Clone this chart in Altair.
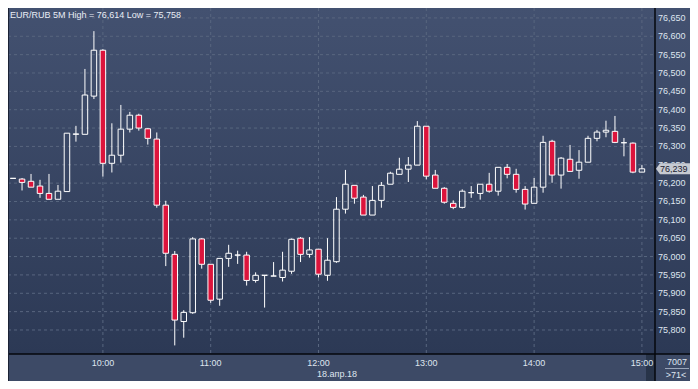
import altair as alt
import pandas as pd

symbol = "EUR/RUB"
period = "5M"
date_label = "18.апр.18"
corner_top = "7007"
corner_bottom = ">71<"

times = ["09:10", "09:15", "09:20", "09:25", "09:30", "09:35", "09:40", "09:45", "09:50", "09:55",
         "10:00", "10:05", "10:10", "10:15", "10:20", "10:25", "10:30", "10:35", "10:40", "10:45",
         "10:50", "10:55", "11:00", "11:05", "11:10", "11:15", "11:20", "11:25", "11:30", "11:35",
         "11:40", "11:45", "11:50", "11:55", "12:00", "12:05", "12:10", "12:15", "12:20", "12:25",
         "12:30", "12:35", "12:40", "12:45", "12:50", "12:55", "13:00", "13:05", "13:10", "13:15",
         "13:20", "13:25", "13:30", "13:35", "13:40", "13:45", "13:50", "13:55", "14:00", "14:05",
         "14:10", "14:15", "14:20", "14:25", "14:30", "14:35", "14:40", "14:45", "14:50", "14:55",
         "15:00"]
opens = [76.213, 76.211, 76.205, 76.192, 76.172, 76.156, 76.177, 76.333, 76.333, 76.437,
         76.562, 76.254, 76.276, 76.347, 76.385, 76.348, 76.320, 76.140, 76.006, 75.823,
         75.847, 76.048, 75.979, 75.884, 75.995, 76.004, 76.004, 75.935, 75.949, 75.947,
         75.943, 75.960, 76.050, 76.006, 76.020, 75.949, 75.986, 76.129, 76.194, 76.162,
         76.113, 76.153, 76.197, 76.224, 76.238, 76.249, 76.355, 76.222, 76.186, 76.145,
         76.134, 76.174, 76.172, 76.197, 76.178, 76.243, 76.224, 76.183, 76.145, 76.189,
         76.314, 76.222, 76.265, 76.235, 76.257, 76.322, 76.339, 76.341, 76.310, 76.309,
         76.230]
highs = [76.213, 76.214, 76.225, 76.209, 76.225, 76.195, 76.336, 76.356, 76.511, 76.614,
         76.565, 76.363, 76.413, 76.394, 76.389, 76.350, 76.338, 76.152, 76.015, 75.854,
         76.053, 76.050, 75.979, 75.995, 76.032, 76.016, 76.013, 75.957, 75.949, 75.985,
         76.013, 76.049, 76.053, 76.053, 76.020, 76.050, 76.162, 76.236, 76.194, 76.168,
         76.192, 76.203, 76.231, 76.269, 76.271, 76.369, 76.355, 76.236, 76.189, 76.153,
         76.183, 76.192, 76.197, 76.228, 76.243, 76.252, 76.239, 76.192, 76.214, 76.329,
         76.318, 76.271, 76.304, 76.290, 76.329, 76.345, 76.370, 76.383, 76.323, 76.311,
         76.249]
lows = [76.213, 76.180, 76.189, 76.160, 76.156, 76.156, 76.177, 76.313, 76.333, 76.429,
        76.218, 76.229, 76.256, 76.338, 76.343, 76.305, 76.133, 75.974, 75.758, 75.779,
        75.844, 75.967, 75.874, 75.866, 75.972, 75.980, 75.921, 75.929, 75.861, 75.947,
        75.932, 75.953, 75.985, 75.997, 75.943, 75.934, 75.983, 76.117, 76.144, 76.113,
        76.113, 76.133, 76.197, 76.224, 76.203, 76.249, 76.210, 76.186, 76.144, 76.129,
        76.131, 76.160, 76.155, 76.174, 76.166, 76.213, 76.174, 76.128, 76.145, 76.174,
        76.201, 76.185, 76.232, 76.212, 76.257, 76.314, 76.325, 76.309, 76.273, 76.227,
        76.230]
closes = [76.213, 76.202, 76.189, 76.172, 76.156, 76.178, 76.336, 76.334, 76.440, 76.562,
          76.254, 76.276, 76.347, 76.385, 76.350, 76.322, 76.140, 76.009, 75.827, 75.848,
          76.048, 75.979, 75.881, 75.995, 76.009, 76.004, 75.935, 75.949, 75.949, 75.947,
          75.963, 76.047, 76.006, 76.018, 75.952, 75.990, 76.129, 76.197, 76.159, 76.113,
          76.153, 76.194, 76.227, 76.238, 76.249, 76.355, 76.219, 76.186, 76.148, 76.134,
          76.178, 76.174, 76.197, 76.178, 76.243, 76.224, 76.183, 76.143, 76.189, 76.311,
          76.222, 76.268, 76.232, 76.257, 76.322, 76.339, 76.344, 76.311, 76.310, 76.230,
          76.239]
y_ticks = [75.80, 75.85, 75.90, 75.95, 76.00, 76.05, 76.10, 76.15, 76.20, 76.25,
           76.30, 76.35, 76.40, 76.45, 76.50, 76.55, 76.60, 76.65]
hour_ticks = ["10:00", "11:00", "12:00", "13:00", "14:00", "15:00"]


def minutes(t):
    h, m = t.split(":")
    return int(h) * 60 + int(m)


def fmt(v):
    return f"{v:.3f}".replace(".", ",")


df = pd.DataFrame({"t": [minutes(t) for t in times], "o": opens, "h": highs,
                   "l": lows, "c": closes})
df["top"] = df[["o", "c"]].max(axis=1)
df["bot"] = df[["o", "c"]].min(axis=1)
df["down"] = df["c"] < df["o"]

ydf = pd.DataFrame({"v": y_ticks, "lbl": [fmt(v) for v in y_ticks]})
xdf = pd.DataFrame({"v": [minutes(t) for t in hour_ticks], "lbl": hour_ticks})

W, H = 647, 346
RW, BH = 35, 27
FONT = "Liberation Sans"
FS = 9
LBL = "#dfe5ef"
GRID = "#58667f"

xs = alt.Scale(domain=[549.97, 904.5], nice=False, zero=False)
ys = alt.Scale(domain=[75.7346, 76.677], nice=False, zero=False)

one = pd.DataFrame({"a": [0]})

grad = alt.Gradient(gradient="linear",
                    stops=[alt.GradientStop(color="#435170", offset=0),
                           alt.GradientStop(color="#2c3955", offset=1)],
                    x1=0, x2=0, y1=0, y2=1)

bg = alt.Chart(one).mark_rect(fill=grad).encode(
    x=alt.value(0), x2=alt.value(W + RW), y=alt.value(0), y2=alt.value(H))

band = alt.Chart(one).mark_rect(fill="#283449").encode(
    x=alt.value(W - 9), x2=alt.value(W), y=alt.value(H), y2=alt.value(H + BH))

hgrid = alt.Chart(ydf).mark_rule(color=GRID, strokeDash=[3, 3], strokeWidth=1).encode(
    y=alt.Y("v:Q", scale=ys, axis=None), x=alt.value(0), x2=alt.value(W))

vgrid = alt.Chart(xdf).mark_rule(color=GRID, strokeDash=[3, 3], strokeWidth=1).encode(
    x=alt.X("v:Q", scale=xs, axis=None), y=alt.value(0), y2=alt.value(H))

base = alt.Chart(df)
wick_up = base.mark_rule(color="white", strokeWidth=1, clip=True).encode(
    x=alt.X("t:Q", scale=xs, axis=None),
    y=alt.Y("h:Q", scale=ys, axis=None), y2="top:Q")
wick_dn = base.mark_rule(color="white", strokeWidth=1, clip=True).encode(
    x=alt.X("t:Q", scale=xs, axis=None),
    y=alt.Y("bot:Q", scale=ys, axis=None), y2="l:Q")
bodies = base.mark_bar(size=5.5, stroke="white", strokeWidth=1, clip=True).encode(
    x=alt.X("t:Q", scale=xs, axis=None),
    y=alt.Y("top:Q", scale=ys, axis=None), y2="bot:Q",
    fill=alt.condition("datum.down", alt.value("#dc143c"), alt.value("transparent")))

xlabels = alt.Chart(xdf).mark_text(font=FONT, fontSize=FS, color=LBL, align="center",
                                   baseline="middle").encode(
    x=alt.X("v:Q", scale=xs, axis=None), y=alt.value(H + 9), text="lbl:N")
ylabels = alt.Chart(ydf).mark_text(font=FONT, fontSize=FS, color=LBL, align="left",
                                   baseline="middle").encode(
    y=alt.Y("v:Q", scale=ys, axis=None), x=alt.value(W + 3), text="lbl:N")

corner = alt.Chart(one).mark_rect(fill="#3d4a66").encode(
    x=alt.value(W + 0.75), x2=alt.value(W + RW), y=alt.value(H + 0.75), y2=alt.value(H + BH))
vline = alt.Chart(one).mark_rule(color="#05070c", strokeWidth=1.5).encode(
    x=alt.value(W), y=alt.value(0), y2=alt.value(H + BH))
hline = alt.Chart(one).mark_rule(color="#05070c", strokeWidth=1.5).encode(
    y=alt.value(H), x=alt.value(0), x2=alt.value(W + RW))
lline = alt.Chart(one).mark_rule(color="#1b2235", strokeWidth=1).encode(
    x=alt.value(0.5), y=alt.value(0), y2=alt.value(H + BH))
uline = alt.Chart(one).mark_rule(color="#9aa6ba", strokeWidth=1).encode(
    y=alt.value(H + 14.5), x=alt.value(W + 10), x2=alt.value(W + RW - 1))
ctext1 = alt.Chart(one).mark_text(text=corner_top, font=FONT, fontSize=FS, color=LBL,
                                  align="center", baseline="middle").encode(
    x=alt.value(W + 22), y=alt.value(H + 8))
ctext2 = alt.Chart(one).mark_text(text=corner_bottom, font=FONT, fontSize=FS, color=LBL,
                                  align="center", baseline="middle").encode(
    x=alt.value(W + 21), y=alt.value(H + 20.5))

last = pd.DataFrame({"p": [closes[-1]], "lbl": [fmt(closes[-1])]})
marker_path = "M-1,0 L-0.765,-0.32 L1,-0.32 L1,0.32 L-0.765,0.32 Z"
marker = alt.Chart(last).mark_point(shape=marker_path, filled=True, fill="#c6cad2",
                                    opacity=1, size=34 * 34, strokeWidth=0).encode(
    x=alt.value(W + 18), y=alt.Y("p:Q", scale=ys, axis=None))
marker_text = alt.Chart(last).mark_text(font=FONT, fontSize=FS, color="#1a2030",
                                        align="left", baseline="middle").encode(
    x=alt.value(W + 5), y=alt.Y("p:Q", scale=ys, axis=None), text="lbl:N")

title_text = f"{symbol} {period} High = {fmt(max(highs))} Low = {fmt(min(lows))}"
title = alt.Chart(one).mark_text(text=title_text, font=FONT, fontSize=FS, color="#e9edf5",
                                 align="left", baseline="middle").encode(
    x=alt.value(2), y=alt.value(7))
date = alt.Chart(one).mark_text(text=date_label, font=FONT, fontSize=FS, color=LBL,
                                align="center", baseline="middle").encode(
    x=alt.value(329), y=alt.value(H + 19.5))

chart = alt.layer(
    bg, band, hgrid, vgrid, wick_up, wick_dn, bodies, xlabels, ylabels, corner, vline,
    hline, lline, uline, ctext1, ctext2, marker, marker_text, title, date
).properties(
    width=W, height=H,
    autosize=alt.AutoSizeParams(type="none"),
    padding={"left": 0, "top": 0, "right": RW, "bottom": BH},
    background="#3d4a66",
).configure_view(strokeWidth=0)

chart.save("out.html", embed_options={"renderer": "svg", "actions": False})
